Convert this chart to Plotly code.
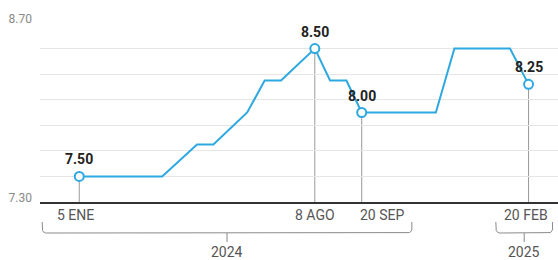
import numpy as np
import pandas as pd
import plotly.graph_objects as go

# ---- data ----
dates = ["2024-01-05", "2024-03-21", "2024-04-22", "2024-05-07", "2024-06-07",
         "2024-06-23", "2024-07-08", "2024-08-08", "2024-08-22", "2024-09-06",
         "2024-09-20", "2024-11-27", "2024-12-14", "2025-02-03", "2025-02-20"]
rates = [7.50, 7.50, 7.75, 7.75, 8.00, 8.25, 8.25, 8.50, 8.25, 8.25,
         8.00, 8.00, 8.50, 8.50, 8.22]

marker_dates = ["2024-01-05", "2024-08-08", "2024-09-20", "2025-02-20"]
marker_values = [7.50, 8.50, 8.00, 8.22]
marker_labels = ["7.50", "8.50", "8.00", "8.25"]
date_labels = ["5 ENE", "8 AGO", "20 SEP", "20 FEB"]
date_label_shift = [-4, 0, 20, -3]

y_ticks = [7.30, 7.50, 7.70, 7.90, 8.10, 8.30, 8.50, 8.70]
y_tick_text = ["7.30", "", "", "", "", "", "", "8.70"]

year_labels = ["2024", "2025"]
year_starts = ["2023-12-02", "2025-01-21"]
year_ends = ["2024-11-05", "2025-03-14"]

x_range = ["2023-11-30", "2025-03-19"]

BLUE = "#2ea8e0"
FONT = "Roboto"
NARROW = "Liberation Sans Narrow, Roboto"

fig = go.Figure()

# main line
fig.add_trace(go.Scatter(x=dates, y=rates, mode="lines",
                         line=dict(color=BLUE, width=2), hoverinfo="skip",
                         xaxis="x", yaxis="y"))
# markers
fig.add_trace(go.Scatter(x=marker_dates, y=marker_values, mode="markers",
                         marker=dict(size=9, color="white",
                                     line=dict(color=BLUE, width=2)),
                         cliponaxis=False, hoverinfo="skip", xaxis="x", yaxis="y"))

# drop lines
for d, v in zip(marker_dates, marker_values):
    fig.add_shape(type="line", xref="x", yref="y", x0=d, x1=d, y0=y_ticks[0], y1=v,
                  line=dict(color="#9a9a9a", width=1), layer="below")

# value labels
for d, v, t in zip(marker_dates, marker_values, marker_labels):
    fig.add_annotation(x=d, y=v, xref="x", yref="y", text="<b>" + t + "</b>",
                       showarrow=False, yshift=17,
                       font=dict(family=FONT, size=14, color="#222"))

# date labels
for d, t, s in zip(marker_dates, date_labels, date_label_shift):
    fig.add_annotation(x=d, y=13, xref="x", yref="y2", text=t, showarrow=False,
                       xshift=s, font=dict(family=NARROW, size=14, color="#555"))

# year brackets
top, bot, r = 20.0, 31.0, 4.0
for lab, s, e in zip(year_labels, year_starts, year_ends):
    x0 = pd.Timestamp(s)
    x1 = pd.Timestamp(e)
    rx = pd.Timedelta(days=3.7)
    t = np.linspace(0, np.pi / 2, 8)
    xs = [x0]
    ys = [top]
    for ti in t:
        xs.append(x0 + rx * (1 - np.cos(ti)))
        ys.append(bot - r + r * np.sin(ti))
    for ti in t[::-1]:
        xs.append(x1 - rx * (1 - np.cos(ti)))
        ys.append(bot - r + r * np.sin(ti))
    xs.append(x1)
    ys.append(top)
    fig.add_trace(go.Scatter(x=xs, y=ys, mode="lines",
                             line=dict(color="#8a8a8a", width=1),
                             hoverinfo="skip", xaxis="x", yaxis="y2"))
    mid = x0 + (x1 - x0) / 2
    fig.add_trace(go.Scatter(x=[mid, mid], y=[bot, 40], mode="lines",
                             line=dict(color="#8a8a8a", width=1),
                             hoverinfo="skip", xaxis="x", yaxis="y2"))
    fig.add_annotation(x=mid, y=50, xref="x", yref="y2", text=lab, showarrow=False,
                       font=dict(family=NARROW, size=14, color="#555"))

main_bottom = 58 / 237

fig.update_layout(
    template="none",
    width=558, height=260,
    margin=dict(l=40, r=0, t=23, b=0, autoexpand=False),
    paper_bgcolor="white", plot_bgcolor="white",
    showlegend=False,
    xaxis=dict(type="date", range=x_range, showgrid=False, zeroline=False,
               showline=True, linecolor="#333", linewidth=1.5,
               showticklabels=False, ticks="", anchor="y", automargin=False),
    yaxis=dict(domain=[main_bottom, 1], range=[7.30, 8.70], tickvals=y_ticks,
               ticktext=y_tick_text, showgrid=True, gridcolor="#e6e6e6",
               gridwidth=1, zeroline=False, showline=False, ticks="",
               ticklabelstandoff=7, ticklabelshift=-4, automargin=False,
               tickfont=dict(family=NARROW, size=12, color="#888")),
    yaxis2=dict(domain=[0, main_bottom], range=[58, 0], visible=False,
                anchor="x", automargin=False),
)

fig.write_html(
    "out.html",
    config={"displayModeBar": False},
    post_script="document.body.style.margin='0px';document.body.style.overflow='hidden';",
)
